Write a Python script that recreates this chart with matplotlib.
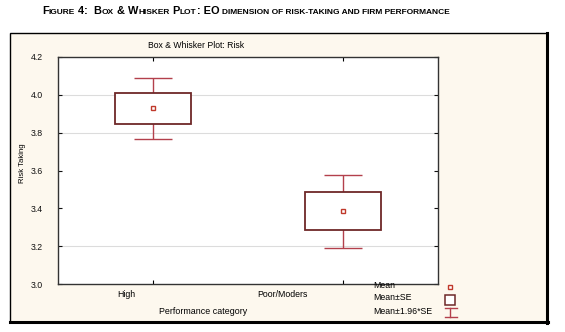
import matplotlib
matplotlib.use('Agg')
import matplotlib.pyplot as plt
from matplotlib.patches import Rectangle
from matplotlib.lines import Line2D
from matplotlib import font_manager

# ---------------- data ----------------
categories = ["High", "Poor/Moders"]
means = [3.930, 3.385]
se_low = [3.846, 3.284]
se_high = [4.012, 3.484]
ci_low = [3.768, 3.188]
ci_high = [4.090, 3.576]
yticks = [3.0, 3.2, 3.4, 3.6, 3.8, 4.0, 4.2]
ytick_labels = ["3.0", "3.2", "3.4", "3.6", "3.8", "4.0", "4.2"]
grid_levels = [3.2, 3.8, 4.0]
legend_labels = ["Mean", "Mean\u00b1SE", "Mean\u00b11.96*SE"]

W, H = 565, 332


def fx(x):
    return x / W


def fy(y):
    return 1 - y / H


def has_font(name):
    try:
        font_manager.findfont(name, fallback_to_default=False)
        return True
    except Exception:
        return False


base_font = "Liberation Sans" if has_font("Liberation Sans") else "DejaVu Sans"
narrow_font = "Liberation Sans Narrow" if has_font("Liberation Sans Narrow") else base_font
plt.rcParams['font.family'] = [base_font, 'DejaVu Sans']

fig = plt.figure(figsize=(W / 100, H / 100), dpi=100)
fig.patch.set_facecolor('white')

# outer panel frame
cream = '#fdf8ee'
fig.add_artist(Rectangle((fx(10), fy(322)), fx(547) - fx(10), fy(33) - fy(322),
                         transform=fig.transFigure, facecolor=cream,
                         edgecolor='black', linewidth=1.0, zorder=-5))
fig.add_artist(Line2D([fx(547), fx(547)], [fy(33), fy(323)], transform=fig.transFigure,
                      color='black', linewidth=2.2, zorder=-4))
fig.add_artist(Line2D([fx(10), fx(548)], [fy(322), fy(322)], transform=fig.transFigure,
                      color='black', linewidth=2.2, zorder=-4))

# axes
ax = fig.add_axes([fx(58), fy(284), fx(438) - fx(58), fy(57) - fy(284)])
ax.set_facecolor('white')
ax.set_xlim(0.5, 2.5)
ax.set_ylim(3.0, 4.2)
for s in ax.spines.values():
    s.set_color('#333333')
    s.set_linewidth(1.0)

x = [1, 2]
box_h = [h - l for h, l in zip(se_high, se_low)]
ax.hlines(grid_levels, 0.5, 2.5, colors='#dcdcdc', linewidth=0.8, zorder=1)
ax.errorbar(x, means,
            yerr=[[m - l for m, l in zip(means, ci_low)],
                  [h - m for m, h in zip(means, ci_high)]],
            fmt='none', ecolor='#b3404c', elinewidth=1.0, capsize=13.7,
            capthick=1.0, zorder=2)
ax.bar(x, box_h, bottom=se_low, width=0.4, facecolor='white',
       edgecolor='#6e2828', linewidth=1.3, zorder=3)
ax.plot(x, means, linestyle='none', marker='s', markersize=3.3,
        markerfacecolor='white', markeredgecolor='#c0392b', markeredgewidth=1.0, zorder=4)

ax.set_yticks(yticks)
ax.set_yticklabels(ytick_labels)
ax.tick_params(axis='y', which='major', direction='in', length=3, right=True,
               labelsize=6.3, pad=11, colors='#111111')
ax.set_xticks(x)
ax.set_xticklabels(['', ''])
ax.tick_params(axis='x', which='major', direction='in', length=3, top=True)
ax.set_xticks([0.858, 1.679], minor=True)
ax.set_xticklabels(categories, minor=True)
ax.tick_params(axis='x', which='minor', length=0, labelsize=6.3, pad=4)

# texts
fig.text(fx(196), fy(46), "Box & Whisker Plot: Risk", ha='center', va='center', fontsize=6.2)
fig.text(fx(22), fy(163), "Risk Taking", ha='center', va='center', rotation=90, fontsize=5.6)
fig.text(fx(203), fy(312), "Performance category", ha='center', va='center', fontsize=6.4)

# legend
leg_y = [286, 298, 311]
for lab, yy in zip(legend_labels, leg_y):
    fig.text(fx(373), fy(yy), lab, ha='left', va='center', fontsize=6.3)
fig.add_artist(Line2D([fx(450)], [fy(287)], transform=fig.transFigure, marker='s',
                      markersize=3.3, markerfacecolor='white', markeredgecolor='#c0392b',
                      markeredgewidth=1.0))
fig.add_artist(Line2D([fx(450)], [fy(299.5)], transform=fig.transFigure, marker='s',
                      markersize=7, markerfacecolor='white', markeredgecolor='#6e2828',
                      markeredgewidth=1.1))
for seg in ([(450, 307.5), (450, 316.5)], [(445, 307.5), (457, 307.5)], [(445, 316.5), (457, 316.5)]):
    fig.add_artist(Line2D([fx(p[0]) for p in seg], [fy(p[1]) for p in seg],
                          transform=fig.transFigure, color='#b3404c', linewidth=1.0))

# header in small caps
pieces = [("F", True), ("IGURE", False), (" 4:  ", True), ("B", True), ("OX", False),
          (" & ", True), ("W", True), ("HISKER", False), (" P", True), ("LOT", False),
          (": EO ", True), ("DIMENSION OF RISK-TAKING AND FIRM PERFORMANCE", False)]
renderer = fig.canvas.get_renderer()
texts = []
for txt, big in pieces:
    t = fig.text(0, fy(14), txt, ha='left', va='baseline',
                 fontsize=7.9 if big else 6.05, fontweight='bold',
                 family=[narrow_font, 'DejaVu Sans'])
    texts.append(t)
widths = [t.get_window_extent(renderer).width for t in texts]
total = sum(widths)
cur = 246 - total / 2
for t, w in zip(texts, widths):
    t.set_x(fx(cur))
    cur += w

fig.savefig('out.png', dpi=100, facecolor='white')
